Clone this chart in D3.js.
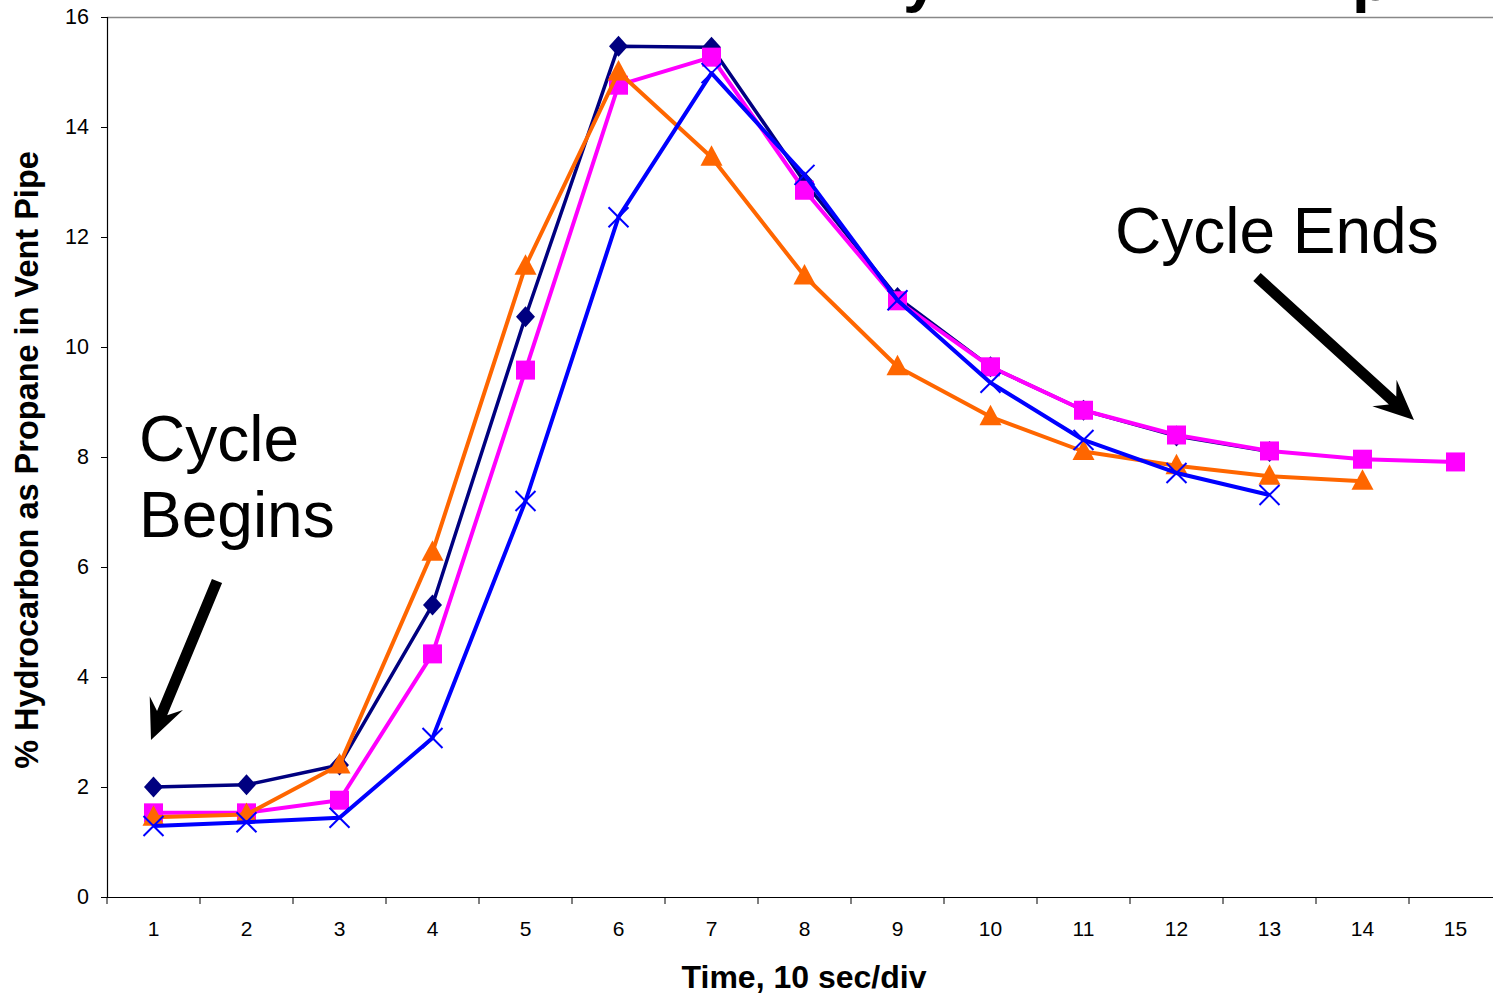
<!DOCTYPE html>
<html><head><meta charset="utf-8">
<script src="https://cdn.jsdelivr.net/npm/d3@7"></script>
<style>
html,body{margin:0;padding:0;background:#fff;overflow:hidden}
svg{display:block;font-family:Arial,"Liberation Sans",sans-serif}
</style></head>
<body>
<svg id="chart" width="1493" height="997"></svg>
<script>
const categories = [1,2,3,4,5,6,7,8,9,10,11,12,13,14,15];
const yTicks = [0,2,4,6,8,10,12,14,16];
const seriesNavy    = [2.0,2.04,2.4,5.31,10.55,15.47,15.45,13.0,10.9,9.64,8.85,8.38,8.1];
const seriesMagenta = [1.53,1.53,1.76,4.42,9.58,14.76,15.27,12.85,10.84,9.64,8.85,8.4,8.11,7.96,7.91];
const seriesOrange  = [1.45,1.5,2.4,6.27,11.47,15.0,13.45,11.29,9.64,8.73,8.1,7.84,7.65,7.56];
const seriesBlue    = [1.29,1.36,1.44,2.89,7.2,12.36,14.98,13.13,10.85,9.35,8.31,7.71,7.31];
const yLabel = "% Hydrocarbon as Propane in Vent Pipe";
const xLabel = "Time, 10 sec/div";

(function(){
const svg = d3.select("#chart");
const left = 107, plotTop = 17, bottom = 897, band = 93;
const x = d3.scaleBand().domain(categories).range([left, left + band*categories.length]).paddingInner(0).paddingOuter(0);
const y = d3.scaleLinear().domain([0,16]).range([bottom, plotTop]);
const cx = d => x(d) + x.bandwidth()/2;

// cut-off title glyphs (title lies above the visible area)
svg.append("text").attr("x",903).attr("y",0).attr("font-size",64).attr("font-weight","bold").text("y");
svg.append("text").attr("x",1352).attr("y",0).attr("font-size",64).attr("font-weight","bold").text("p");

// plot top border
svg.append("line").attr("x1",left).attr("x2",1493).attr("y1",plotTop+0.5).attr("y2",plotTop+0.5).attr("stroke","#888").attr("stroke-width",1.5);

// y axis
const yAxis = d3.axisLeft(y).tickValues(yTicks).tickSize(6).tickPadding(12);
const gy = svg.append("g").attr("transform",`translate(${left},0)`).call(yAxis);
gy.select(".domain").attr("stroke","#000").attr("stroke-width",1.2);
gy.selectAll(".tick line").attr("stroke","#000");
gy.selectAll("text").attr("font-size",21.5).attr("font-family","Arial, 'Liberation Sans', sans-serif").attr("fill","#000");

// x axis
const xAxis = d3.axisBottom(x).tickSize(0).tickPadding(24);
const gx = svg.append("g").attr("transform",`translate(0,${bottom})`).call(xAxis);
gx.select(".domain").attr("stroke","#000").attr("stroke-width",1.2);
gx.selectAll("text").attr("font-size",21).attr("font-family","Arial, 'Liberation Sans', sans-serif").attr("fill","#000");
gx.selectAll(".bnd").data(d3.range(categories.length+1)).enter().append("line")
  .attr("x1",i=>left+i*band).attr("x2",i=>left+i*band).attr("y1",0).attr("y2",7).attr("stroke","#000");

// axis labels
svg.append("text").attr("transform",`translate(38,460) rotate(-90)`).attr("text-anchor","middle")
  .attr("font-size",32.5).attr("font-weight","bold").text(yLabel);
svg.append("text").attr("x",804).attr("y",988).attr("text-anchor","middle")
  .attr("font-size",32).attr("font-weight","bold").text(xLabel);

const line = d3.line().x((d,i)=>cx(categories[i])).y(d=>y(d));
const series = [
  {data:seriesNavy, color:"#000080", w:3.5, m:"diamond"},
  {data:seriesMagenta, color:"#FF00FF", w:4, m:"square"},
  {data:seriesOrange, color:"#FF6600", w:4, m:"triangle"},
  {data:seriesBlue, color:"#0000FF", w:4, m:"cross"}
];
series.forEach(s=>{
  const g = svg.append("g");
  g.append("path").datum(s.data).attr("d",line).attr("fill","none").attr("stroke",s.color).attr("stroke-width",s.w).attr("stroke-linejoin","round");
  const pts = g.selectAll(".pt").data(s.data).enter().append("g")
    .attr("transform",(d,i)=>`translate(${cx(categories[i])},${y(d)})`);
  if(s.m==="diamond") pts.append("path").attr("d","M0,-10.5L9.5,0L0,10.5L-9.5,0Z").attr("fill",s.color);
  if(s.m==="square") pts.append("rect").attr("x",-9.5).attr("y",-9.5).attr("width",19).attr("height",19).attr("fill",s.color);
  if(s.m==="triangle") pts.append("path").attr("d","M0,-12L11,8.5L-11,8.5Z").attr("fill",s.color);
  if(s.m==="cross") pts.append("path").attr("d","M-10,-10L10,10M-10,10L10,-10").attr("stroke",s.color).attr("stroke-width",2);
});

// annotations
svg.append("text").attr("x",139).attr("y",461).attr("font-size",64).text("Cycle");
svg.append("text").attr("x",139).attr("y",537).attr("font-size",64).text("Begins");
svg.append("text").attr("x",1115).attr("y",253).attr("font-size",64).text("Cycle Ends");

function arrow(x1,y1,x2,y2){
  const dx=x2-x1, dy=y2-y1, L=Math.hypot(dx,dy), ux=dx/L, uy=dy/L, px=-uy, py=ux;
  const hw=5.5, hl=40, hwid=18, notch=11;
  const bx=x2-ux*hl, by=y2-uy*hl;
  const nx=x2-ux*(hl-notch), ny=y2-uy*(hl-notch);
  const pts=[[x1+px*hw,y1+py*hw],[nx+px*hw,ny+py*hw],[bx+px*hwid,by+py*hwid],[x2,y2],
    [bx-px*hwid,by-py*hwid],[nx-px*hw,ny-py*hw],[x1-px*hw,y1-py*hw]];
  svg.append("polygon").attr("points",pts.map(p=>p.join(",")).join(" ")).attr("fill","#000");
}
arrow(217,581,151,740);
arrow(1257,277,1414,420);
})();
</script>
</body></html>
